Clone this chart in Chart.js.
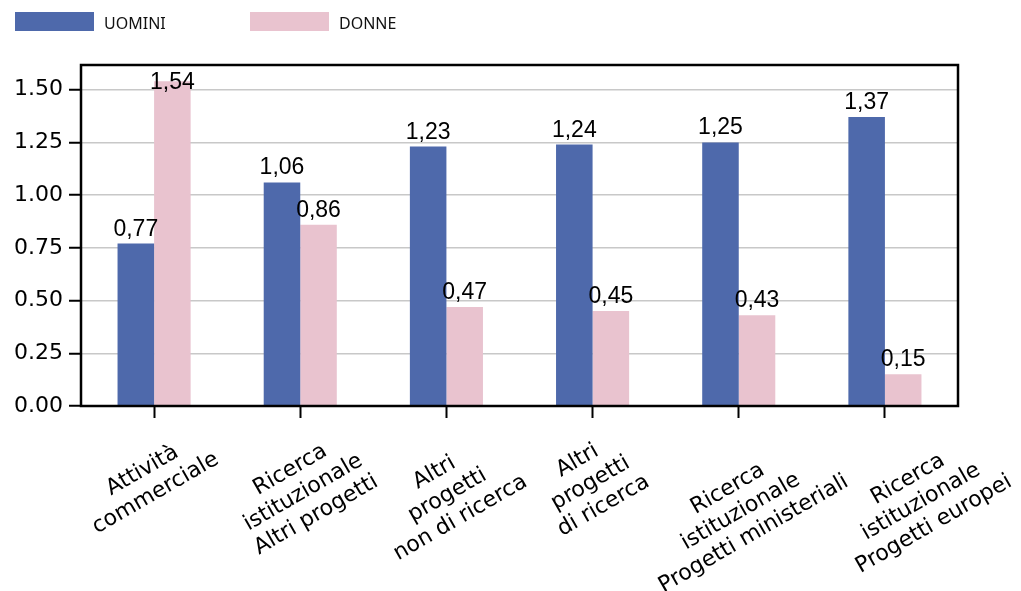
<!DOCTYPE html>
<html>
<head>
<meta charset="utf-8">
<script src="https://cdn.jsdelivr.net/npm/chart.js@4/dist/chart.umd.min.js"></script>
<style>
  html, body { margin: 0; padding: 0; background: #fff; }
  #wrap { position: relative; width: 1021px; height: 591px; }
  .key { position: absolute; top: 12px; width: 79px; height: 19px; }
  .keytxt { position: absolute; top: 12px; height: 19px; line-height: 20px; font: 16px "Noto Sans", sans-serif; color: #111; }
</style>
</head>
<body>
<div id="wrap">
  <canvas id="myChart" width="1021" height="591"></canvas>
  <div class="key" style="left:15px;background:#4e69ab"></div>
  <div class="keytxt" style="left:104px">UOMINI</div>
  <div class="key" style="left:250px;background:#e9c3cf"></div>
  <div class="keytxt" style="left:339px">DONNE</div>
</div>
<script>
// categories (one entry per line of the rotated label)
const categories = [
    ['Attività', 'commerciale'],
    ['Ricerca', 'istituzionale', 'Altri progetti'],
    ['Altri', 'progetti', 'non di ricerca'],
    ['Altri', 'progetti', 'di ricerca'],
    ['Ricerca', 'istituzionale', 'Progetti ministeriali'],
    ['Ricerca', 'istituzionale', 'Progetti europei']
];
const uomini = [0.77, 1.06, 1.23, 1.24, 1.25, 1.37];
const donne = [1.54, 0.86, 0.47, 0.45, 0.43, 0.15];
const yTicks = [0, 0.25, 0.5, 0.75, 1.0, 1.25, 1.5];

const BLUE = '#4e69ab';
const PINK = '#e9c3cf';

// small horizontal shifts of the rotated category labels, as seen in the picture
const labelShift = [-5, 3, 1, -2, 2, 36];

// frame round the plot area
const framePlugin = {
    id: 'frame',
    afterDatasetsDraw(chart) {
        const a = chart.chartArea, ctx = chart.ctx;
        ctx.save();
        ctx.strokeStyle = '#000';
        ctx.lineWidth = 2.5;
        ctx.strokeRect(a.left, a.top, a.right - a.left, a.bottom - a.top);
        ctx.restore();
    }
};

// value labels over the bars, comma as decimal separator
const valuePlugin = {
    id: 'values',
    afterDatasetsDraw(chart) {
        const ctx = chart.ctx, top = chart.chartArea.top;
        ctx.save();
        ctx.font = '23px "Liberation Sans", Arial, sans-serif';
        ctx.fillStyle = '#000';
        ctx.textAlign = 'center';
        ctx.textBaseline = 'alphabetic';
        chart.data.datasets.forEach((ds, di) => {
            chart.getDatasetMeta(di).data.forEach((bar, i) => {
                let base = bar.y - 8;
                if (base - 17 < top + 8) base = top + 24;
                ctx.fillText(ds.data[i].toFixed(2).replace('.', ','), bar.x, base);
            });
        });
        ctx.restore();
    }
};

// rotated, centred multi-line category labels placed at the x scale ticks
const xLabelPlugin = {
    id: 'xlabels',
    afterDraw(chart) {
        const ctx = chart.ctx, xs = chart.scales.x;
        const ang = 30 * Math.PI / 180, lh = 26;
        ctx.save();
        ctx.font = '22px "DejaVu Sans", sans-serif';
        ctx.fillStyle = '#000';
        ctx.textAlign = 'center';
        ctx.textBaseline = 'middle';
        categories.forEach((lines, i) => {
            const w = Math.max(...lines.map(l => ctx.measureText(l).width));
            const h = lines.length * lh;
            const bh = w * Math.sin(ang) + h * Math.cos(ang);
            const cx = xs.getPixelForTick(i) + labelShift[i];
            const cy = xs.top + 18 + bh / 2;
            ctx.save();
            ctx.translate(cx, cy);
            ctx.rotate(-ang);
            lines.forEach((l, k) => ctx.fillText(l, 0, -h / 2 + lh / 2 + k * lh));
            ctx.restore();
        });
        ctx.restore();
    }
};

const ctx = document.getElementById('myChart').getContext('2d');
const myChart = new Chart(ctx, {
    type: 'bar',
    data: {
        labels: categories,
        datasets: [
            { label: 'UOMINI', data: uomini, backgroundColor: BLUE, borderWidth: 0 },
            { label: 'DONNE', data: donne, backgroundColor: PINK, borderWidth: 0 }
        ]
    },
    options: {
        responsive: false,
        animation: false,
        devicePixelRatio: 1,
        layout: { padding: { top: 65, right: 63, left: 0, bottom: 0 } },
        datasets: { bar: { barPercentage: 1, categoryPercentage: 0.5 } },
        plugins: { legend: { display: false }, tooltip: { enabled: false } },
        scales: {
            x: {
                offset: true,
                border: { display: false },
                grid: { offset: false, drawOnChartArea: false, drawTicks: true, tickLength: 12, tickColor: '#000', tickWidth: 2 },
                ticks: { display: false },
                afterFit(s) { s.height = 185; }
            },
            y: {
                min: 0,
                max: 1.617,
                border: { display: false },
                grid: { color: '#c8c8c8', lineWidth: 1.5, tickLength: 12, tickColor: '#000', tickWidth: 2 },
                ticks: {
                    includeBounds: false,
                    padding: 6,
                    color: '#000',
                    font: { family: 'DejaVu Sans', size: 22 },
                    callback: v => v.toFixed(2)
                },
                afterBuildTicks(s) { s.ticks = yTicks.map(v => ({ value: v })); },
                afterFit(s) { s.width = 81; }
            }
        }
    },
    plugins: [framePlugin, valuePlugin, xLabelPlugin]
});
</script>
</body>
</html>
